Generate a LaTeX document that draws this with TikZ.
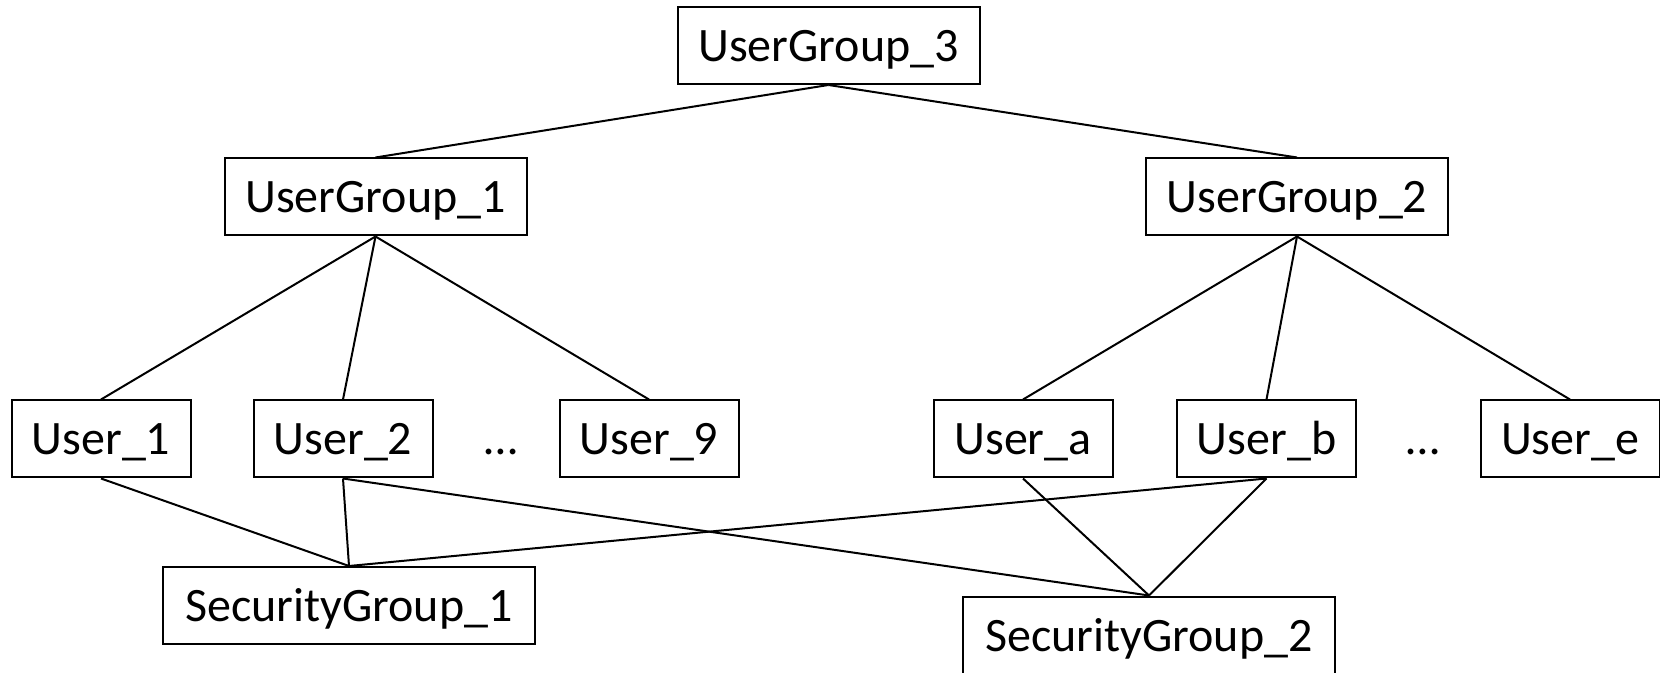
\documentclass[tikz,border=0pt]{standalone}
\usepackage{fontspec}
\setmainfont{Carlito}
\begin{document}
\begin{tikzpicture}[x=0.5pt,y=-0.5pt,
  box/.style={draw=black,line width=1pt,inner sep=0pt,font=\fontsize{24}{28}\selectfont,text height=20pt,text depth=4pt,minimum height=38.5pt},
  gbox/.style={box,minimum width=151pt},
  ubox/.style={box,minimum width=89.5pt},
  sbox/.style={box,minimum width=186pt},
  dots/.style={inner sep=0pt,font=\fontsize{24}{28}\selectfont,text height=20pt,text depth=4pt},
  link/.style={line width=1pt}]
\useasboundingbox (0,0) rectangle (1660,673);
\node[gbox] (ug3) at (828.5,45.5) {UserGroup\_3};
\node[gbox] (ug1) at (375.5,197) {UserGroup\_1};
\node[gbox] (ug2) at (1297,197) {UserGroup\_2};
\node[ubox] (u1) at (101,439) {User\_1};
\node[ubox] (u2) at (343,439) {User\_2};
\node[dots] (d1) at (501,439) {…};
\node[ubox] (u9) at (649,439) {User\_9};
\node[ubox] (ua) at (1023,439) {User\_a};
\node[ubox] (ub) at (1266.5,439) {User\_b};
\node[dots] (d2) at (1423,439) {…};
\node[ubox] (ue) at (1570,439) {User\_e};
\node[sbox] (sg1) at (349,605.5) {SecurityGroup\_1};
\node[sbox] (sg2) at (1149,635) {SecurityGroup\_2};
\draw[link] (ug3.south) -- (ug1.north);
\draw[link] (ug3.south) -- (ug2.north);
\draw[link] (ug1.south) -- (u1.north);
\draw[link] (ug1.south) -- (u2.north);
\draw[link] (ug1.south) -- (u9.north);
\draw[link] (ug2.south) -- (ua.north);
\draw[link] (ug2.south) -- (ub.north);
\draw[link] (ug2.south) -- (ue.north);
\draw[link] (u1.south) -- (sg1.north);
\draw[link] (u2.south) -- (sg1.north);
\draw[link] (ub.south) -- (sg1.north);
\draw[link] (u2.south) -- (sg2.north);
\draw[link] (ua.south) -- (sg2.north);
\draw[link] (ub.south) -- (sg2.north);
\end{tikzpicture}
\end{document}
